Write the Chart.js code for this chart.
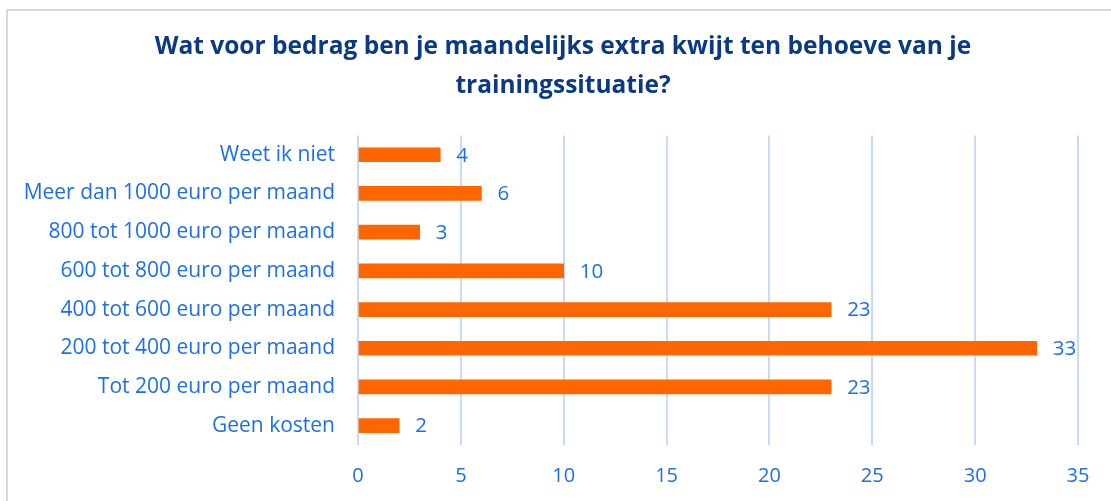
<!DOCTYPE html>
<html>
<head>
<meta charset="utf-8">
<script src="https://cdn.jsdelivr.net/npm/chart.js@4/dist/chart.umd.min.js"></script>
<style>
html,body{margin:0;padding:0;background:#fff;overflow:hidden;width:1111px;height:501px;}
#box{position:absolute;left:6px;top:9px;width:1120px;height:520px;border:2px solid #d9d9d9;}
#wrap{position:absolute;left:8px;top:11px;width:1110px;height:490px;}
</style>
</head>
<body>
<div id="box"></div>
<div id="wrap"><canvas id="chartBedrag" width="1110" height="490"></canvas></div>
<script>
const categories=['Weet ik niet','Meer dan 1000 euro per maand','800 tot 1000 euro per maand','600 tot 800 euro per maand','400 tot 600 euro per maand','200 tot 400 euro per maand','Tot 200 euro per maand','Geen kosten'];
const values=[4,6,3,10,23,33,23,2];
const xTicks=[0,5,10,15,20,25,30,35];

const blauw='#1f6fe3';
const oranje='#ff6600';
const fontNaam="'Open Sans', 'Noto Sans', sans-serif";

const waardeLabels={
  id:'waardeLabels',
  afterDatasetsDraw(chart){
    const ctx=chart.ctx;
    const meta=chart.getDatasetMeta(0);
    ctx.save();
    ctx.fillStyle=blauw;
    ctx.font="20.5px "+fontNaam;
    ctx.textAlign='left';
    ctx.textBaseline='middle';
    meta.data.forEach((el,i)=>{ctx.fillText(String(values[i]),el.x+16,el.y+1);});
    ctx.restore();
  }
};

const ctx=document.getElementById('chartBedrag').getContext('2d');
new Chart(ctx,{
  type:'bar',
  data:{labels:categories,datasets:[{data:values,backgroundColor:oranje,borderWidth:0,barThickness:14}]},
  options:{
    indexAxis:'y',
    responsive:false,
    animation:false,
    layout:{padding:0},
    plugins:{
      legend:{display:false},
      tooltip:{enabled:false},
      title:{
        display:true,
        text:['Wat voor bedrag ben je maandelijks extra kwijt ten behoeve van je','trainingssituatie?'],
        color:'#0c3a82',
        font:{family:fontNaam,size:24.5,weight:'bold',lineHeight:1.6},
        padding:{top:16,bottom:30}
      }
    },
    scales:{
      x:{
        min:0,max:35,
        afterBuildTicks(s){s.ticks=xTicks.map(v=>({value:v}));},
        afterFit(s){s.height=56;s.paddingRight=40;},
        grid:{color:'#c8dbf6',lineWidth:2,drawTicks:false},
        border:{display:false},
        ticks:{color:blauw,font:{family:fontNaam,size:20},padding:19}
      },
      y:{
        afterFit(s){s.width=350;},
        grid:{display:false,drawTicks:false},
        border:{display:false},
        ticks:{color:blauw,font:{family:fontNaam,size:21},padding:23}
      }
    }
  },
  plugins:[waardeLabels]
});
</script>
</body>
</html>
